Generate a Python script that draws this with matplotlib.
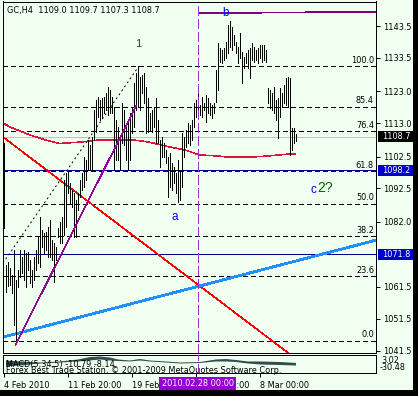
import matplotlib
matplotlib.use('Agg')
import matplotlib.pyplot as plt
from matplotlib.patches import Rectangle
from matplotlib.transforms import blended_transform_factory

# ---------------- data ----------------
title_text = "GC,H4  1109.0 1109.7 1107.3 1108.7"

bar_high = [1106.7, 1068.4, 1069.4, 1067.5, 1065.3, 1073.1, 1063.7, 1066.8, 1073.1, 1070.9,
            1073.1, 1072.2, 1072.5, 1070.0, 1066.8, 1070.9, 1073.1, 1077.2, 1083.5, 1079.4,
            1078.5, 1078.8, 1080.4, 1082.6, 1076.3, 1075.3, 1074.1, 1080.0, 1081.9, 1083.5,
            1095.1, 1097.3, 1097.6, 1094.2, 1092.0, 1091.0, 1088.8, 1091.0, 1095.1, 1097.3,
            1102.3, 1101.4, 1107.7, 1106.1, 1108.6, 1117.1, 1120.3, 1121.2, 1120.3, 1120.9,
            1121.2, 1122.5, 1124.3, 1123.4, 1121.2, 1118.1, 1114.0, 1111.8, 1107.7, 1119.3,
            1117.1, 1111.8, 1113.0, 1116.2, 1118.1, 1125.6, 1128.7, 1130.9, 1127.5, 1128.1,
            1128.7, 1124.3, 1120.9, 1116.2, 1117.1, 1118.1, 1120.9, 1114.0, 1107.7, 1108.6,
            1106.7, 1104.5, 1102.3, 1103.6, 1100.5, 1099.2, 1097.3, 1101.4, 1098.3, 1109.9,
            1108.6, 1110.8, 1113.0, 1112.4, 1114.0, 1119.3, 1120.3, 1123.4, 1118.7, 1121.2,
            1119.3, 1121.8, 1120.9, 1119.3, 1118.7, 1119.3, 1129.7, 1138.2, 1136.6, 1136.0,
            1136.6, 1138.5, 1143.8, 1145.1, 1143.2, 1140.7, 1138.5, 1136.9, 1141.3, 1135.3,
            1133.8, 1135.0, 1136.0, 1136.6, 1138.2, 1136.9, 1136.0, 1136.6, 1137.5, 1137.5,
            1137.5, 1136.0, 1124.0, 1123.4, 1122.5, 1124.3, 1120.3, 1120.9, 1124.0, 1122.5,
            1125.0, 1127.2, 1127.5, 1127.2, 1111.5, 1111.5, 1109.7]

bar_low = [1080.0, 1059.9, 1061.7, 1062.1, 1059.6, 1049.6, 1044.2, 1061.5, 1064.6, 1065.9,
           1063.7, 1061.5, 1066.8, 1062.8, 1061.5, 1063.7, 1066.8, 1069.0, 1067.8, 1074.1,
           1072.2, 1073.1, 1070.9, 1070.9, 1070.0, 1063.1, 1070.0, 1077.2, 1075.3, 1075.3,
           1077.8, 1080.4, 1091.0, 1087.9, 1086.6, 1077.2, 1077.2, 1085.7, 1089.8, 1092.0,
           1092.9, 1095.1, 1098.3, 1098.3, 1098.3, 1107.7, 1110.2, 1114.9, 1114.0, 1114.6,
           1116.2, 1117.1, 1115.5, 1116.2, 1116.2, 1098.3, 1101.4, 1101.4, 1098.3, 1106.7,
           1106.1, 1101.4, 1098.3, 1101.4, 1109.9, 1111.8, 1117.1, 1118.1, 1117.1, 1122.5,
           1119.3, 1109.9, 1110.2, 1110.8, 1110.2, 1111.8, 1106.7, 1106.7, 1099.2, 1102.3,
           1102.3, 1100.5, 1089.8, 1092.9, 1092.0, 1094.2, 1091.0, 1088.2, 1088.8, 1092.9,
           1102.3, 1105.5, 1106.7, 1106.1, 1107.7, 1111.8, 1114.9, 1114.9, 1115.5, 1114.9,
           1117.1, 1113.3, 1116.2, 1115.5, 1114.6, 1116.2, 1119.6, 1123.4, 1132.2, 1131.9,
           1132.8, 1133.5, 1135.0, 1136.9, 1136.0, 1137.5, 1135.0, 1131.9, 1133.5, 1125.6,
           1130.3, 1131.9, 1130.3, 1127.2, 1132.8, 1132.2, 1132.8, 1131.9, 1133.5, 1132.2,
           1132.8, 1132.2, 1119.3, 1117.7, 1117.1, 1116.2, 1114.0, 1108.3, 1114.9, 1118.1,
           1119.3, 1118.7, 1118.1, 1103.0, 1104.5, 1106.7, 1107.3]

ma_idx = [0, 3, 7, 13, 21, 28, 38, 48, 57, 65, 73, 81, 91, 98, 106, 113, 123, 133, 143, 146]
ma_val = [1113.0, 1111.8, 1110.8, 1109.3, 1107.7, 1106.6, 1107.0, 1107.7, 1107.7, 1107.7,
          1107.0, 1105.8, 1104.5, 1103.0, 1102.7, 1102.3, 1102.3, 1102.7, 1103.3, 1103.3]

fib_low, fib_high = 1044.5, 1130.8
fib_levels = [0.0, 23.6, 38.2, 50.0, 61.8, 76.4, 85.4, 100.0]

current_price = 1108.7
level_lines = [1098.2, 1071.8]
price_ticks = [1143.5, 1133.5, 1123.0, 1113.0, 1102.5, 1092.5, 1082.0, 1061.5, 1051.5, 1041.5]

red_trend = [(0, 1108.5), (140, 1041.9)]
blue_trend = [(0, 1045.8), (180, 1075.2)]
wave_idx = [6, 66.3]
wave_val = [1043.3, 1118.4]
dotted_idx = [-0.3, 67.7]
dotted_val = [1069.0, 1130.9]
top_line_idx = [97.5, 186.3]
top_line_val = [1147.6, 1147.9]

wave_labels = [("1", 67.25, 1137.8, '#006400', 8.0),
               ("b", 111.25, 1147.7, '#0000FF', 8.5),
               ("a", 85.75, 1083.5, '#0000FF', 8.5),
               ("c", 154.75, 1092.0, '#0000FF', 8.5),
               ("2?", 161.0, 1092.6, '#006400', 10.0)]

sep_idx = 97
sep_label = "2010.02.28 00:00"
date_tick_idx = [0, 32, 64, 96, 128]
date_tick_lbl = ['4 Feb 2010', '11 Feb 20:00', '19 Feb 12:00', '26 Feb 04:00', '8 Mar 00:00']

macd_idx = [1, 8, 18, 28, 37, 43, 48, 53, 57, 63, 68, 73, 81, 88, 98, 106, 111, 116, 122, 128, 138, 146]
macd_main = [-6.3, -8.1, -10.0, -8.1, -4.4, 0.2, 1.2, -0.7, -4.4, -6.3, -3.5, -6.3, -8.1, -10.0,
             -9.1, -4.4, -3.5, -5.4, -8.1, -8.1, -9.1, -10.8]
macd_signal = [-17.5, -15.6, -11.9, -10.0, -8.1, -6.3, -4.4, -6.3, -7.2, -8.1, -6.3, -8.1, -10.0,
               -11.9, -10.9, -8.1, -8.1, -9.1, -11.9, -13.7, -14.7, -15.6]
macd_title = "MACD(5,34,5) -10.79 -8.14"
macd_max, macd_min = 3.02, -30.48
copyright_text = "Forex Best Trade Station, \u00a9 2001-2009 MetaQuotes Software Corp."

# ---------------- style ----------------
W, H = 418, 396
BG = '#F0FFF0'
FS = 5.9
PX = 0.72   # one pixel
NP = 0.55   # thin non-antialiased horizontal / vertical line
DP = 0.4    # thin non-antialiased diagonal line
plt.rcParams['font.family'] = ['DejaVu Sans']

fig = plt.figure(figsize=(W / 100, H / 100), dpi=100, facecolor=BG)


def rect(x0, y0, x1, y1):
    return [x0 / W, 1 - y1 / H, (x1 - x0) / W, (y1 - y0) / H]


ax = fig.add_axes(rect(3, 1.5, 376, 352.5))
axm = fig.add_axes(rect(3, 355, 376, 373))
for a in (ax, axm):
    a.set_facecolor(BG)
    for s in a.spines.values():
        s.set_color('black')
        s.set_linewidth(PX)
    a.set_xlim(-0.25, 186.25)

ax.set_ylim(1040.92, 1151.2)
axm.set_ylim(macd_min, macd_max)

n = len(bar_high)
ax.vlines(list(range(n)), bar_low, bar_high, colors='black', linewidth=NP,
          antialiased=False, zorder=3)

# fib levels
for lvl in fib_levels:
    p = fib_low + (fib_high - fib_low) * lvl / 100.0
    ax.axhline(p, color='black', lw=NP, dashes=(5.5, 4), antialiased=False, zorder=2)
    ax.annotate(f"{lvl:.1f}", xy=(0.9946, p), xycoords=('axes fraction', 'data'),
                xytext=(0, 1.2), textcoords='offset points', ha='right', va='bottom',
                fontsize=FS, color='black')

ax.axhline(current_price, color='#C0C0C0', lw=NP, antialiased=False, zorder=1)
for lv in level_lines:
    ax.axhline(lv, color='#000090', lw=NP, antialiased=False, zorder=2)

ax.plot(ma_idx, ma_val, color='#DC143C', lw=DP, antialiased=False, zorder=2)
ax.axline(red_trend[0], red_trend[1], color='#FF0000', lw=DP, antialiased=False, zorder=2)
ax.axline(blue_trend[0], blue_trend[1], color='#1E90FF', lw=1.3, antialiased=False, zorder=2)
ax.plot(wave_idx, wave_val, color='#990099', lw=DP, antialiased=False, zorder=4)
ax.plot(dotted_idx, dotted_val, color='black', lw=0.7, dashes=(2, 3), antialiased=True,
        zorder=4)
ax.plot(top_line_idx, top_line_val, color='#800080', lw=NP, antialiased=False, zorder=2)

for a in (ax, axm):
    a.axvline(sep_idx, color='#9932CC', lw=NP, dashes=(12, 5), antialiased=False, zorder=5)

for s, xi, yv, c, fs in wave_labels:
    ax.text(xi, yv, s, color=c, fontsize=fs, ha='center', va='center',
            family='Liberation Sans', zorder=6)

ax.text(0.0107, 0.973, title_text, transform=ax.transAxes, fontsize=FS,
        ha='left', va='center', color='black')

# right price axis
ax.yaxis.tick_right()
ax.set_yticks(price_ticks)
ax.set_yticklabels([f"{p:.1f}" for p in price_ticks])
ax.tick_params(axis='y', direction='out', length=2.9, width=PX, pad=2.2,
               labelsize=FS, colors='black')
ax.set_xticks([])

# price boxes
fig.canvas.draw()
box_specs = [(current_price, 'black')] + [(lv, '#0000CD') for lv in level_lines]
for p, c in box_specs:
    yd = ax.transData.transform((0, p))[1]
    yfig = yd / H
    fig.add_artist(Rectangle((378 / W, yfig - 5.5 / H), 35 / W, 11 / H,
                             transform=fig.transFigure, facecolor=c, edgecolor='none',
                             zorder=5))
    fig.text(382 / W, yfig, f"{p:.1f}", color='white', fontsize=FS, ha='left',
             va='center', zorder=6)

# MACD panel
axm.fill_between(macd_idx, macd_signal, macd_main, color='#2F4F4F', lw=0, zorder=2)
axm.text(0.008, 0.46, macd_title, transform=axm.transAxes, fontsize=FS,
         ha='left', va='center', color='black', zorder=4)
axm.text(0.008, 0.16, copyright_text, transform=axm.transAxes, fontsize=FS,
         ha='left', va='center', color='black', zorder=4)
axm.text(1.0134, 0.667, f"{macd_max:.2f}", transform=axm.transAxes, fontsize=FS,
         ha='left', va='center', color='black')
axm.text(1.0107, 0.28, f"{macd_min:.2f}", transform=axm.transAxes, fontsize=FS,
         ha='left', va='center', color='black')
axm.set_yticks([])
axm.set_xticks(date_tick_idx)
axm.set_xticklabels(date_tick_lbl)
for lab in axm.get_xticklabels():
    lab.set_horizontalalignment('left')
axm.tick_params(axis='x', direction='out', length=2.9, width=PX, pad=2.5,
                labelsize=FS, colors='black')

tr = blended_transform_factory(axm.transData, axm.transAxes)
axm.text(sep_idx, -0.36, sep_label, transform=tr, ha='center', va='top', color='white',
         fontsize=FS, zorder=10, clip_on=False,
         bbox=dict(boxstyle='square,pad=0.25', facecolor='#9400D3', edgecolor='none'))

# black borders right and bottom
fig.add_artist(Rectangle((413 / W, 0), 5 / W, 1, transform=fig.transFigure,
                         facecolor='black', edgecolor='none', zorder=20))
fig.add_artist(Rectangle((0, 0), 1, 6 / H, transform=fig.transFigure,
                         facecolor='black', edgecolor='none', zorder=20))

fig.savefig('out.png', dpi=100, facecolor=BG)
